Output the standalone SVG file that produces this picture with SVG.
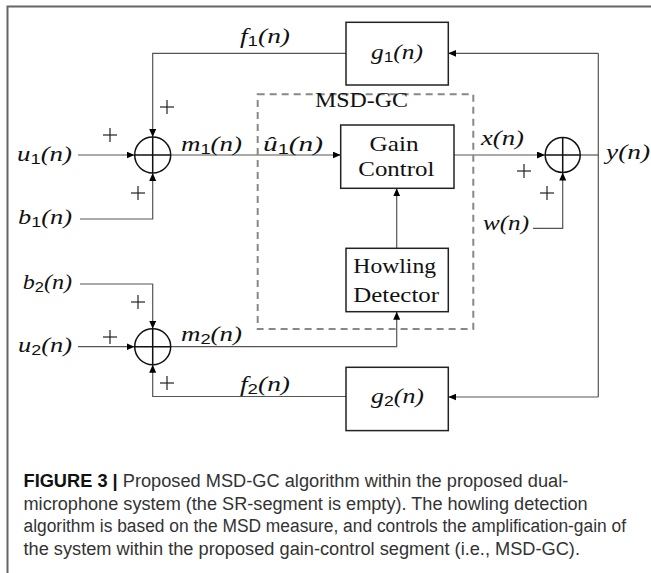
<svg xmlns="http://www.w3.org/2000/svg" width="651" height="573" viewBox="0 0 651 573">
<style>
.frame{stroke:#666;stroke-width:2;fill:none}
.box{fill:#fff;stroke:#222;stroke-width:1.5}
.dash{fill:none;stroke:#888;stroke-width:2;stroke-dasharray:7 5}
.sum{fill:none;stroke:#111;stroke-width:1.5}
.wire{fill:none;stroke:#555;stroke-width:1.2}
.plus{stroke:#222;stroke-width:1.2}
.m{font-family:"Liberation Serif","DejaVu Serif",serif;font-style:italic;font-size:22px;fill:#111}
.s{font-family:"Liberation Sans","DejaVu Sans",sans-serif;font-style:normal;font-size:15px}
.t{font-family:"Liberation Serif","DejaVu Serif",serif;font-size:21px;fill:#111;text-anchor:middle}
.cap{font-family:"Liberation Sans","Arial",sans-serif;font-size:18px;fill:#333}
.capb{font-weight:bold;fill:#111}
</style>
<defs>
<marker id="arr" markerUnits="userSpaceOnUse" markerWidth="9" markerHeight="8" refX="8" refY="3.5" orient="auto">
<path d="M0,0 L8,3.5 L0,7 z" fill="#000"/>
</marker>
<g id="pl"><line class="plus" x1="-7" y1="0" x2="7" y2="0"/><line class="plus" x1="0" y1="-7" x2="0" y2="7"/></g>
</defs>
<rect width="651" height="573" fill="#fff"/>
<path class="frame" d="M7.5,573 V6.5 H651"/>

<g id="connectors">
<path class="wire" d="M78,155 H134.5" marker-end="url(#arr)"/>
<path class="wire" d="M80,219 H152.7 V173" marker-end="url(#arr)"/>
<path class="wire" d="M346,53.3 H152.7 V137" marker-end="url(#arr)"/>
<path class="wire" d="M170.7,155 H340.7" marker-end="url(#arr)"/>
<path class="wire" d="M454,155 H545" marker-end="url(#arr)"/>
<path class="wire" d="M533,228.3 H562.7 V172.5" marker-end="url(#arr)"/>
<path class="wire" d="M580.2,155 H598.3"/>
<path class="wire" d="M598.3,53.3 V397"/>
<path class="wire" d="M598.3,53.3 H448.3" marker-end="url(#arr)"/>
<path class="wire" d="M598.3,397 H448.3" marker-end="url(#arr)"/>
<path class="wire" d="M396.7,248.3 V188.3" marker-end="url(#arr)"/>
<path class="wire" d="M170.7,346.7 H396.7 V311.7" marker-end="url(#arr)"/>
<path class="wire" d="M78,346.7 H134.5" marker-end="url(#arr)"/>
<path class="wire" d="M80,284 H152.7 V328.7" marker-end="url(#arr)"/>
<path class="wire" d="M346,396.5 H152.7 V364.7" marker-end="url(#arr)"/>
</g>

<g id="msdgc">
<rect class="dash" x="257.7" y="94.3" width="215.6" height="234.7"/>
<text class="t" x="361.5" y="106.7" textLength="93" lengthAdjust="spacingAndGlyphs">MSD-GC</text>
</g>

<g id="g1">
<rect class="box" x="346" y="22.3" width="102.3" height="62.7"/>
<text class="m" x="371" y="59" textLength="52" lengthAdjust="spacingAndGlyphs">g<tspan class="s" dy="3">1</tspan><tspan dy="-3">(n)</tspan></text>
</g>

<g id="g2">
<rect class="box" x="346" y="367.3" width="102.3" height="63.3"/>
<text class="m" x="371" y="403" textLength="53" lengthAdjust="spacingAndGlyphs">g<tspan class="s" dy="3">2</tspan><tspan dy="-3">(n)</tspan></text>
</g>

<g id="gaincontrol">
<rect class="box" x="340.7" y="125" width="113.3" height="63.3"/>
<text class="t" x="394" y="150.7" textLength="49" lengthAdjust="spacingAndGlyphs">Gain</text>
<text class="t" x="396.3" y="175.7" textLength="76" lengthAdjust="spacingAndGlyphs">Control</text>
</g>

<g id="howling">
<rect class="box" x="346" y="248.3" width="102.3" height="63.4"/>
<text class="t" x="394.7" y="273.3" textLength="82.7" lengthAdjust="spacingAndGlyphs">Howling</text>
<text class="t" x="396.2" y="301.7" textLength="85.7" lengthAdjust="spacingAndGlyphs">Detector</text>
</g>

<g id="sum1">
<circle class="sum" cx="152.7" cy="155" r="18"/>
<path class="sum" d="M134.7,155 H170.7 M152.7,137 V173"/>
</g>
<g id="sum2">
<circle class="sum" cx="152.7" cy="346.7" r="18"/>
<path class="sum" d="M134.7,346.7 H170.7 M152.7,328.7 V364.7"/>
</g>
<g id="sum3">
<circle class="sum" cx="562.7" cy="155" r="17.5"/>
<path class="sum" d="M545.2,155 H580.2 M562.7,137.5 V172.5"/>
</g>

<g id="signs">
<use href="#pl" x="110" y="135"/>
<use href="#pl" x="167" y="107"/>
<use href="#pl" x="138" y="193"/>
<use href="#pl" x="524" y="171"/>
<use href="#pl" x="547" y="193"/>
<use href="#pl" x="138" y="302"/>
<use href="#pl" x="110" y="337"/>
<use href="#pl" x="167" y="383"/>
</g>

<g id="labels">
<text class="m" x="240" y="43" textLength="50" lengthAdjust="spacingAndGlyphs">f<tspan class="s" dy="3">1</tspan><tspan dy="-3">(n)</tspan></text>
<text class="m" x="17" y="161" textLength="55" lengthAdjust="spacingAndGlyphs">u<tspan class="s" dy="3">1</tspan><tspan dy="-3">(n)</tspan></text>
<text class="m" x="18" y="224" textLength="54" lengthAdjust="spacingAndGlyphs">b<tspan class="s" dy="3">1</tspan><tspan dy="-3">(n)</tspan></text>
<text class="m" x="181" y="151" textLength="61" lengthAdjust="spacingAndGlyphs">m<tspan class="s" dy="3">1</tspan><tspan dy="-3">(n)</tspan></text>
<text class="m" x="263" y="151" textLength="60" lengthAdjust="spacingAndGlyphs">û<tspan class="s" dy="3">1</tspan><tspan dy="-3">(n)</tspan></text>
<text class="m" x="481" y="145" textLength="43" lengthAdjust="spacingAndGlyphs">x(n)</text>
<text class="m" x="606" y="159" textLength="44" lengthAdjust="spacingAndGlyphs">y(n)</text>
<text class="m" x="483" y="230" textLength="46" lengthAdjust="spacingAndGlyphs">w(n)</text>
<text class="m" x="22.7" y="289" textLength="49.3" lengthAdjust="spacingAndGlyphs">b<tspan class="s" dy="3">2</tspan><tspan dy="-3">(n)</tspan></text>
<text class="m" x="18" y="352" textLength="54" lengthAdjust="spacingAndGlyphs">u<tspan class="s" dy="3">2</tspan><tspan dy="-3">(n)</tspan></text>
<text class="m" x="181" y="341" textLength="61" lengthAdjust="spacingAndGlyphs">m<tspan class="s" dy="3">2</tspan><tspan dy="-3">(n)</tspan></text>
<text class="m" x="240" y="391" textLength="50" lengthAdjust="spacingAndGlyphs">f<tspan class="s" dy="3">2</tspan><tspan dy="-3">(n)</tspan></text>
</g>

<g id="caption">
<text class="cap" x="23.5" y="487" textLength="544.8" lengthAdjust="spacingAndGlyphs"><tspan class="capb">FIGURE 3 |</tspan> Proposed MSD-GC algorithm within the proposed dual-</text>
<text class="cap" x="23.5" y="509.5" textLength="564.2" lengthAdjust="spacingAndGlyphs">microphone system (the SR-segment is empty). The howling detection</text>
<text class="cap" x="23.5" y="532" textLength="602.5" lengthAdjust="spacingAndGlyphs">algorithm is based on the MSD measure, and controls the amplification-gain of</text>
<text class="cap" x="23.5" y="554.5" textLength="556.5" lengthAdjust="spacingAndGlyphs">the system within the proposed gain-control segment (i.e., MSD-GC).</text>
</g>
</svg>
